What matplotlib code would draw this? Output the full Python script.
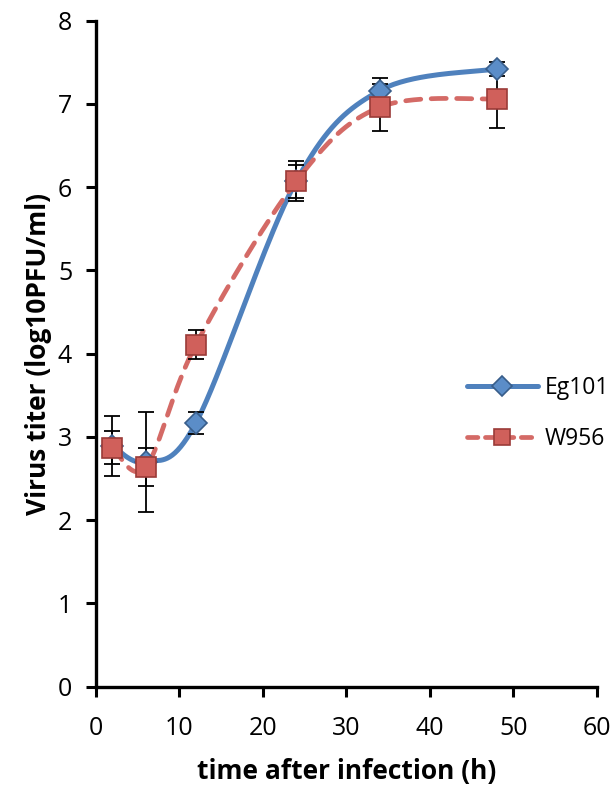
import numpy as np
import matplotlib
matplotlib.use("Agg")
import matplotlib.pyplot as plt

plt.rcParams['font.family'] = ['Open Sans', 'DejaVu Sans']

hours = [2, 6, 12, 24, 34, 48]
eg101 = [2.89, 2.70, 3.17, 6.07, 7.16, 7.42]
eg101_err = [0.36, 0.60, 0.13, 0.20, 0.15, 0.08]
w956 = [2.87, 2.64, 4.11, 6.07, 6.96, 7.06]
w956_err = [0.20, 0.23, 0.17, 0.24, 0.28, 0.35]
series_names = ["Eg101", "W956"]
x_ticks = [0, 10, 20, 30, 40, 50, 60]
y_ticks = [0, 1, 2, 3, 4, 5, 6, 7, 8]


def excel_smooth(xs, ys, n=40):
    p = np.column_stack([xs, ys]).astype(float)
    out = []
    m = len(p)
    for i in range(m - 1):
        p0 = p[i - 1] if i > 0 else p[i]
        p1 = p[i]
        p2 = p[i + 1]
        p3 = p[i + 2] if i + 2 < m else p[i + 1]
        c1 = p1 + (p2 - p0) / 6.0
        c2 = p2 - (p3 - p1) / 6.0
        t = np.linspace(0, 1, n)[:, None]
        seg = ((1 - t) ** 3) * p1 + 3 * ((1 - t) ** 2) * t * c1 + 3 * (1 - t) * t ** 2 * c2 + t ** 3 * p2
        out.append(seg if i == 0 else seg[1:])
    s = np.vstack(out)
    return s[:, 0], s[:, 1]


fig = plt.figure(figsize=(6.14, 7.93), dpi=100)
ax = fig.add_axes([0.156, 0.134, 0.816, 0.840])

blue = '#4F81BD'
red = '#D46A66'

sx, sy = excel_smooth(hours, eg101)
ax.plot(sx, sy, color=blue, lw=3.6, solid_capstyle='round', zorder=2)
rx, ry = excel_smooth(hours, w956)
ax.plot(rx, ry, color=red, lw=3.4, ls=(0, (3.2, 2.2)), dash_capstyle='round', zorder=3)

ax.errorbar(hours, eg101, yerr=eg101_err, fmt='none', ecolor='black', elinewidth=1.3, capsize=6, capthick=1.3, zorder=4)
ax.errorbar(hours, w956, yerr=w956_err, fmt='none', ecolor='black', elinewidth=1.3, capsize=6, capthick=1.3, zorder=4)

ax.plot(hours, eg101, ls='none', marker='D', ms=11, mfc='#5B8DC8', mec='#385D8A', mew=1.2, zorder=5)
ax.plot(hours, w956, ls='none', marker='s', ms=14, mfc='#D0605B', mec='#9B3B38', mew=1.2, zorder=6)

# legend handles
h1, = ax.plot([], [], color=blue, lw=3.6, marker='D', ms=10, mfc='#5B8DC8', mec='#385D8A', mew=1.2, solid_capstyle='round')
h2, = ax.plot([], [], color=red, lw=3.4, ls=(0, (2.2, 1.6)), marker='s', ms=12, mfc='#D0605B', mec='#9B3B38', mew=1.2, dash_capstyle='round')
leg = ax.legend([h1, h2], series_names, loc='center left', bbox_to_anchor=(0.740, 0.410),
                frameon=False, fontsize=16.5, handlelength=3.1, labelspacing=1.2, handletextpad=0.3,
                borderpad=0, borderaxespad=0)

ax.set_xlim(0, 60)
ax.set_ylim(0, 8)
ax.set_xticks(x_ticks)
ax.set_yticks(y_ticks)
ax.tick_params(axis='both', labelsize=18, width=2.2, length=7, direction='out', color='black')
ax.tick_params(axis='x', pad=14)
ax.tick_params(axis='y', pad=10)
for s in ['top', 'right']:
    ax.spines[s].set_visible(False)
for s in ['left', 'bottom']:
    ax.spines[s].set_linewidth(2.4)
    ax.spines[s].set_color('black')

ax.set_xlabel('time after infection (h)', fontsize=19, fontweight='bold', labelpad=12)
ax.set_ylabel('Virus titer (log10PFU/ml)', fontsize=19, fontweight='bold', labelpad=4)

fig.savefig('out.png', dpi=100)
